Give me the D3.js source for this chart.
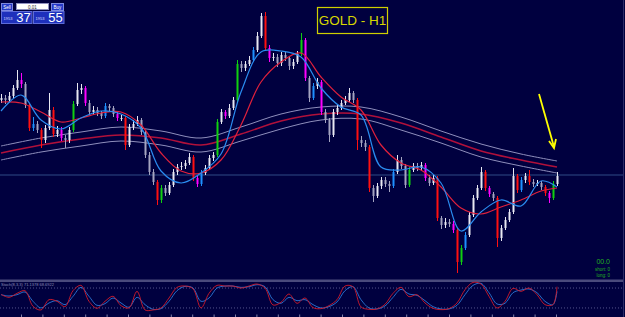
<!DOCTYPE html>
<html>
<head>
<meta charset="utf-8">
<script src="https://cdn.jsdelivr.net/npm/d3@7"></script>
<style>
  body { margin: 0; background: #00003f; overflow: hidden; }
  svg { display: block; }
</style>
</head>
<body>
<svg id="chart"></svg>
<script>
// GOLD H1 candles, prices (open = previous close)
const firstOpen = 1970.0
const closes = [
  1970.4, 1970.0, 1970.8, 1972.4, 1974.0, 1973.2, 1969.0, 1964.4, 1965.2, 1964.0,
  1962.0, 1964.4, 1968.0, 1963.2, 1964.0, 1962.4, 1962.0, 1964.0, 1969.2, 1972.0,
  1972.4, 1969.4, 1967.6, 1968.0, 1967.4, 1966.8, 1968.8, 1968.4, 1967.2, 1966.4,
  1966.4, 1961.0, 1964.6, 1965.2, 1966.0, 1963.6, 1959.0, 1955.6, 1953.6, 1950.0,
  1952.4, 1951.4, 1953.0, 1955.6, 1956.6, 1956.8, 1957.4, 1958.6, 1954.4, 1953.2,
  1955.4, 1956.4, 1958.4, 1959.0, 1965.6, 1967.6, 1966.8, 1968.4, 1970.0, 1977.2,
  1976.4, 1977.2, 1978.0, 1980.0, 1982.8, 1986.8, 1980.4, 1978.4, 1978.6, 1977.4,
  1979.0, 1978.4, 1976.8, 1977.6, 1979.2, 1982.0, 1974.4, 1970.4, 1972.8, 1973.6,
  1967.6, 1966.0, 1963.0, 1967.6, 1968.4, 1969.4, 1970.0, 1971.4, 1970.0, 1962.0,
  1961.4, 1960.6, 1952.4, 1950.8, 1952.8, 1954.0, 1953.2, 1952.8, 1955.6, 1958.0,
  1956.8, 1953.0, 1956.0, 1956.8, 1956.4, 1957.0, 1954.4, 1953.4, 1954.4, 1946.4,
  1945.0, 1945.6, 1945.2, 1944.0, 1937.6, 1940.4, 1943.0, 1947.0, 1950.4, 1952.4,
  1955.6, 1952.4, 1951.2, 1950.4, 1942.4, 1944.4, 1946.0, 1947.6, 1954.8, 1952.0,
  1954.0, 1954.8, 1953.6, 1953.2, 1953.4, 1952.6, 1951.4, 1950.4, 1953.2, 1954.8
]
const highs = [
  1971.2, 1971.0, 1971.6, 1973.0, 1976.0, 1975.4, 1973.6, 1969.4, 1966.6, 1965.8,
  1964.4, 1965.0, 1971.4, 1968.6, 1964.8, 1964.6, 1963.0, 1964.6, 1969.8, 1973.4,
  1973.2, 1972.8, 1970.0, 1968.8, 1968.6, 1967.8, 1969.4, 1969.2, 1968.8, 1967.6,
  1967.0, 1966.8, 1965.2, 1966.0, 1966.8, 1966.4, 1964.0, 1959.6, 1956.2, 1954.0,
  1953.0, 1953.0, 1953.6, 1956.2, 1957.2, 1957.6, 1958.0, 1959.4, 1959.0, 1954.8,
  1956.0, 1957.0, 1959.0, 1959.6, 1966.2, 1968.2, 1968.0, 1969.2, 1970.6, 1978.0,
  1977.8, 1977.8, 1978.8, 1980.6, 1983.6, 1987.4, 1987.6, 1981.0, 1979.4, 1979.2,
  1979.6, 1979.6, 1978.8, 1978.2, 1979.8, 1983.4, 1982.4, 1974.8, 1973.4, 1974.4,
  1974.0, 1968.2, 1966.4, 1968.2, 1969.0, 1970.0, 1970.8, 1972.4, 1971.8, 1970.4,
  1962.8, 1962.0, 1961.0, 1953.0, 1953.4, 1954.6, 1954.6, 1953.8, 1956.2, 1959.0,
  1958.6, 1957.2, 1956.6, 1957.4, 1957.4, 1957.6, 1957.4, 1955.0, 1955.0, 1954.8,
  1946.8, 1946.4, 1946.2, 1945.8, 1944.4, 1941.0, 1943.6, 1947.6, 1951.0, 1953.0,
  1956.6, 1956.0, 1952.8, 1951.6, 1950.8, 1945.0, 1946.6, 1948.2, 1956.4, 1955.2,
  1954.6, 1955.4, 1956.0, 1954.2, 1954.0, 1953.8, 1953.0, 1951.8, 1953.8, 1955.6
]
const lows = [
  1969.4, 1969.2, 1969.6, 1970.4, 1972.0, 1972.4, 1968.4, 1963.8, 1963.8, 1963.4,
  1960.4, 1961.4, 1964.0, 1962.6, 1962.6, 1961.8, 1960.4, 1961.4, 1963.6, 1968.8,
  1971.2, 1968.8, 1967.0, 1967.0, 1966.8, 1966.2, 1966.4, 1967.8, 1966.6, 1965.8,
  1965.8, 1960.0, 1960.6, 1964.0, 1964.8, 1963.0, 1958.4, 1955.0, 1953.0, 1949.0,
  1949.4, 1950.8, 1951.0, 1952.6, 1955.0, 1956.0, 1956.2, 1957.0, 1953.8, 1952.6,
  1952.8, 1955.0, 1956.0, 1957.8, 1958.6, 1965.2, 1966.2, 1966.4, 1968.0, 1969.6,
  1975.6, 1975.8, 1976.8, 1977.6, 1979.6, 1982.4, 1979.8, 1977.6, 1977.8, 1976.6,
  1976.8, 1977.8, 1976.0, 1976.2, 1977.2, 1978.8, 1973.8, 1969.6, 1970.0, 1972.2,
  1967.0, 1965.4, 1961.6, 1962.6, 1967.0, 1968.0, 1969.0, 1969.6, 1969.4, 1960.0,
  1960.6, 1959.8, 1951.6, 1949.6, 1950.4, 1952.2, 1952.6, 1951.6, 1952.4, 1955.2,
  1956.2, 1952.4, 1952.6, 1955.6, 1955.8, 1955.8, 1953.8, 1952.8, 1953.0, 1945.8,
  1944.2, 1944.4, 1944.6, 1943.4, 1935.4, 1937.0, 1940.0, 1942.6, 1946.6, 1950.0,
  1952.0, 1951.8, 1950.6, 1949.8, 1940.6, 1941.8, 1944.0, 1945.6, 1947.2, 1951.4,
  1951.6, 1953.4, 1953.0, 1952.6, 1952.8, 1952.0, 1950.8, 1949.4, 1950.0, 1952.8
]

// candles the indicator paints in other colours
const redBars = [7, 10, 13, 31, 39, 48, 66, 89, 92, 109, 114, 121, 124, 129, 132, 136]
const magentaBars = [5, 15, 21, 29, 49, 56, 67, 76, 80, 106, 113, 122, 137]
const greenBars = [18, 40, 54, 59, 75, 102, 115, 138]
const blueBars = [8, 26, 50, 63, 78, 98, 116, 130]

// moving averages, read every 5 bars
const maIdx = d3.range(0, 140, 5).concat([139])
const fastMA = [1967.8, 1971.0, 1966.0, 1964.2, 1966.4, 1967.8, 1967.2, 1964.4, 1955.8, 1953.4,
  1955.4, 1959.2, 1971.6, 1979.6, 1979.8, 1978.6, 1972.4, 1968.6, 1967.0, 1956.6,
  1956.0, 1956.6, 1953.4, 1943.8, 1947.6, 1950.0, 1948.8, 1953.8, 1952.6]
const slowMA = [1969.6, 1969.4, 1967.6, 1965.6, 1966.4, 1967.4, 1967.6, 1965.0, 1959.4, 1955.8,
  1955.4, 1958.0, 1965.0, 1973.6, 1977.6, 1979.4, 1974.6, 1970.6, 1968.0, 1961.0,
  1957.4, 1956.0, 1952.6, 1948.4, 1947.2, 1948.6, 1950.0, 1951.8, 1952.4]

// envelope band, read every 10 bars
const bandIdx = d3.range(0, 140, 10).concat([139])
const bandMid = [1959.4, 1961.0, 1962.2, 1963.0, 1962.4, 1961.0, 1963.2, 1965.8, 1967.2, 1967.2,
  1965.4, 1962.6, 1959.8, 1958.0, 1956.6]
const bandUp = [1960.8, 1962.4, 1963.6, 1964.6, 1963.8, 1962.4, 1964.6, 1967.2, 1968.6, 1968.6,
  1966.6, 1963.8, 1961.2, 1959.2, 1957.8]
const bandLow = [1958.0, 1959.6, 1960.8, 1961.8, 1961.0, 1959.6, 1961.8, 1964.2, 1966.0, 1966.2,
  1964.0, 1961.4, 1958.6, 1956.8, 1955.4]
const hLine = 1955.0

// stochastic sub window, read every 2 bars
const oscIdx = d3.range(0, 140, 2).concat([139])
const stochMain = [61, 52, 64, 72, 25, 14, 45, 40, 24, 72, 88, 40, 19, 40, 55, 27, 20, 70, 14, 14,
  20, 50, 82, 86, 78, 20, 64, 88, 86, 86, 80, 86, 92, 80, 29, 37, 62, 34, 50, 21,
  18, 27, 45, 86, 84, 23, 16, 17, 31, 64, 82, 54, 60, 35, 19, 15, 18, 35, 75, 97,
  92, 55, 20, 40, 79, 70, 80, 60, 30, 30, 84]
const stochSignal = [60, 56, 60, 68, 40, 20, 35, 42, 30, 55, 82, 55, 28, 33, 50, 35, 22, 52, 30, 16,
  18, 40, 72, 85, 80, 40, 50, 80, 86, 86, 82, 84, 90, 84, 45, 34, 52, 42, 45, 30,
  20, 24, 38, 72, 84, 45, 20, 17, 26, 52, 76, 62, 58, 42, 24, 17, 17, 28, 60, 88,
  94, 66, 32, 34, 66, 74, 77, 66, 40, 30, 70]
const stochLevels = [20, 80]

const width = 625, height = 317
const svg = d3.select('#chart').attr('width', width).attr('height', height)
svg.append('rect').attr('width', width).attr('height', height).attr('fill', '#00003f')

const x = d3.scaleLinear().domain([0, 139]).range([1, 557])
const y = d3.scaleLinear().domain([1990, 1935]).range([0, 275])
const yOsc = d3.scaleLinear().domain([0, 100]).range([314.6, 281.4])

const main = svg.append('g').attr('class', 'main')

// level line
main.append('line').attr('x1', 0).attr('x2', 623).attr('y1', y(hLine)).attr('y2', y(hLine))
  .attr('stroke', '#2e4a86').attr('stroke-width', 1)

const line = d3.line().x(d => x(d[0])).y(d => y(d[1])).curve(d3.curveCatmullRom)
const pairs = (idx, vals) => idx.map((k, j) => [k, vals[j]])

main.append('path').attr('d', line(pairs(bandIdx, bandUp))).attr('fill', 'none').attr('stroke', '#8f8fbc').attr('stroke-width', 1)
main.append('path').attr('d', line(pairs(bandIdx, bandLow))).attr('fill', 'none').attr('stroke', '#8f8fbc').attr('stroke-width', 1)
main.append('path').attr('d', line(pairs(bandIdx, bandMid))).attr('fill', 'none').attr('stroke', '#b0103a').attr('stroke-width', 1.6)

// candles
const bars = closes.map((c, i) => ({ i: i, o: i ? closes[i - 1] : firstOpen, c: c, h: highs[i], l: lows[i] }))
function barColor(d) {
  if (redBars.includes(d.i)) return '#ff1010'
  if (magentaBars.includes(d.i)) return '#ff00ff'
  if (greenBars.includes(d.i)) return '#10d010'
  if (blueBars.includes(d.i)) return '#1e90ff'
  return d.c >= d.o ? '#e8e8f2' : '#a4a4c0'
}
main.selectAll('.wick').data(bars).join('line').attr('class', 'wick')
  .attr('x1', d => x(d.i) + 0.5).attr('x2', d => x(d.i) + 0.5)
  .attr('y1', d => y(d.h)).attr('y2', d => y(d.l))
  .attr('stroke', barColor).attr('stroke-width', 1)
main.selectAll('.body').data(bars).join('rect').attr('class', 'body')
  .attr('x', d => x(d.i) - 0.5).attr('width', 2)
  .attr('y', d => y(Math.max(d.o, d.c)))
  .attr('height', d => Math.max(1, Math.abs(y(d.o) - y(d.c))))
  .attr('fill', barColor)

main.append('path').attr('d', line(pairs(maIdx, slowMA))).attr('fill', 'none').attr('stroke', '#e0203c').attr('stroke-width', 1.2)
main.append('path').attr('d', line(pairs(maIdx, fastMA))).attr('fill', 'none').attr('stroke', '#2a8cf0').attr('stroke-width', 1.2)

// title box
svg.append('rect').attr('x', 317.5).attr('y', 7.5).attr('width', 70).attr('height', 26)
  .attr('fill', 'none').attr('stroke', '#d0d000').attr('stroke-width', 1.2)
svg.append('text').attr('x', 352.5).attr('y', 25).attr('text-anchor', 'middle')
  .attr('font-family', 'Liberation Sans, Arial, sans-serif').attr('font-size', 13.5)
  .attr('fill', '#d8d800').text('GOLD - H1')

// arrow pointing at last bars
svg.append('line').attr('x1', 539).attr('y1', 94).attr('x2', 554).attr('y2', 147)
  .attr('stroke', '#ffff00').attr('stroke-width', 1.8)
svg.append('path').attr('d', 'M549,141 L554,148 L556,139').attr('fill', 'none')
  .attr('stroke', '#ffff00').attr('stroke-width', 1.8)

// one click trading panel
const panel = svg.append('g').attr('font-family', 'Liberation Sans, Arial, sans-serif')
panel.append('rect').attr('x', 1.5).attr('y', 3.5).attr('width', 11).attr('height', 7).attr('fill', '#2438c8').attr('stroke', '#7c88e0')
panel.append('text').attr('x', 7).attr('y', 9).attr('text-anchor', 'middle').attr('font-size', 4.5).attr('fill', '#ffffff').text('Sell')
panel.append('rect').attr('x', 16.5).attr('y', 3.5).attr('width', 32).attr('height', 6).attr('fill', '#ffffff').attr('stroke', '#9090c0')
panel.append('text').attr('x', 32.5).attr('y', 8.5).attr('text-anchor', 'middle').attr('font-size', 4.5).attr('fill', '#303030').text('0.01')
panel.append('rect').attr('x', 51.5).attr('y', 3.5).attr('width', 12).attr('height', 7).attr('fill', '#2438c8').attr('stroke', '#7c88e0')
panel.append('text').attr('x', 57.5).attr('y', 9).attr('text-anchor', 'middle').attr('font-size', 4.5).attr('fill', '#ffffff').text('Buy')

const quotes = [{ x: 1.5, pre: '1953', big: '37' }, { x: 33.5, pre: '1953', big: '55' }]
quotes.forEach(q => {
  panel.append('rect').attr('x', q.x).attr('y', 11.5).attr('width', 30.5).attr('height', 12)
    .attr('fill', '#1e30bc').attr('stroke', '#5e6cd8')
  panel.append('text').attr('x', q.x + 2).attr('y', 19.5).attr('font-size', 4).attr('fill', '#dcdcff').text(q.pre)
  panel.append('text').attr('x', q.x + 22).attr('y', 22).attr('text-anchor', 'middle')
    .attr('font-size', 13).attr('fill', '#ffffff').text(q.big)
})

// profit info, bottom right
const info = svg.append('g').attr('font-family', 'Liberation Sans, Arial, sans-serif').attr('fill', '#22b022').attr('text-anchor', 'end')
info.append('text').attr('x', 610).attr('y', 263.5).attr('font-size', 7).text('00.0')
info.append('text').attr('x', 610).attr('y', 270.5).attr('font-size', 4.5).text('short: 0')
info.append('text').attr('x', 610).attr('y', 276.5).attr('font-size', 4.5).text('long: 0')

// sub window
svg.append('rect').attr('x', 0).attr('y', 279.5).attr('width', 624).attr('height', 2.5).attr('fill', '#4a4a7c')
const osc = svg.append('g')
osc.selectAll('.lvl').data(stochLevels).join('line').attr('class', 'lvl')
  .attr('x1', 0).attr('x2', 623).attr('y1', d => yOsc(d)).attr('y2', d => yOsc(d))
  .attr('stroke', '#6a6aa0').attr('stroke-width', 0.8).attr('stroke-dasharray', '1,2')
const oscLine = d3.line().x(d => x(d[0])).y(d => yOsc(d[1])).curve(d3.curveCatmullRom)
osc.append('path').attr('d', oscLine(pairs(oscIdx, stochSignal))).attr('fill', 'none').attr('stroke', '#2a78d8').attr('stroke-width', 0.9)
osc.append('path').attr('d', oscLine(pairs(oscIdx, stochMain))).attr('fill', 'none').attr('stroke', '#d01a2a').attr('stroke-width', 0.9)
osc.append('text').attr('x', 1).attr('y', 286).attr('font-family', 'Liberation Sans, Arial, sans-serif')
  .attr('font-size', 4).attr('fill', '#8c8cb8').text('Stoch(8,3,3) 71.1378 68.6922')

// time axis ticks at the very bottom
const timeTicks = d3.range(5, 140, 5.35)
svg.selectAll('.tt').data(timeTicks).join('line').attr('class', 'tt')
  .attr('x1', d => x(d) + 0.5).attr('x2', d => x(d) + 0.5).attr('y1', 314.5).attr('y2', 317)
  .attr('stroke', '#8080a8').attr('stroke-width', 1)

// right border
svg.append('line').attr('x1', 623.5).attr('x2', 623.5).attr('y1', 0).attr('y2', 317).attr('stroke', '#2c2c66')
</script>
</body>
</html>
